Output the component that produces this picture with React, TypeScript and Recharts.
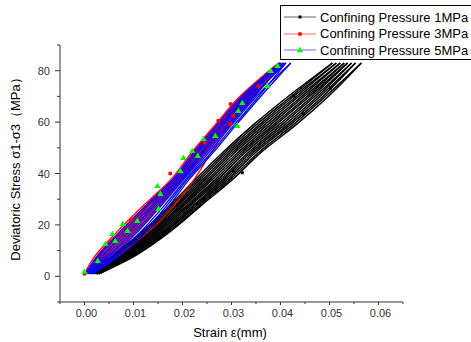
import React from "react";
import { ComposedChart, Line, Scatter, XAxis, YAxis, Label } from "recharts";

// stress levels (MPa) at which each loading / unloading branch was read
const STRESS_UP = [1, 7, 17, 28, 38, 48, 59, 69, 83];
const STRESS_DOWN = [83, 69, 59, 48, 38, 28, 17, 7, 1];

// strain per cycle, confining pressure 1MPa
const P1_LOAD = [
  [0.0008, 0.005, 0.0115, 0.0176, 0.0228, 0.0281, 0.0345, 0.0409, 0.0506],
  [0.0011, 0.0056, 0.0123, 0.0185, 0.0238, 0.0291, 0.0357, 0.042, 0.0514],
  [0.0014, 0.0062, 0.013, 0.0193, 0.0248, 0.0301, 0.0368, 0.0431, 0.0522],
  [0.0017, 0.0068, 0.0138, 0.0202, 0.0258, 0.0312, 0.038, 0.0442, 0.053],
  [0.002, 0.0073, 0.0145, 0.0211, 0.0269, 0.0322, 0.0391, 0.0453, 0.0537],
  [0.0023, 0.0079, 0.0153, 0.0219, 0.0279, 0.0333, 0.0403, 0.0464, 0.0545],
  [0.0026, 0.0085, 0.0161, 0.0228, 0.0289, 0.0343, 0.0415, 0.0475, 0.0553],
  [0.0029, 0.0091, 0.0168, 0.0237, 0.0299, 0.0354, 0.0426, 0.0486, 0.0565],
];
const P1_UNLOAD = [
  [0.0506, 0.0415, 0.0351, 0.0286, 0.0233, 0.018, 0.0119, 0.0053, 0.0011],
  [0.0514, 0.0426, 0.0362, 0.0296, 0.0243, 0.0189, 0.0126, 0.0059, 0.0014],
  [0.0522, 0.0437, 0.0374, 0.0306, 0.0253, 0.0198, 0.0134, 0.0065, 0.0017],
  [0.053, 0.0448, 0.0386, 0.0317, 0.0263, 0.0206, 0.0142, 0.0071, 0.002],
  [0.0537, 0.0459, 0.0397, 0.0327, 0.0274, 0.0215, 0.0149, 0.0076, 0.0023],
  [0.0545, 0.047, 0.0409, 0.0338, 0.0284, 0.0224, 0.0157, 0.0082, 0.0026],
  [0.0553, 0.0481, 0.042, 0.0348, 0.0294, 0.0232, 0.0164, 0.0088, 0.0029],
  [0.0565, 0.0492, 0.0432, 0.0359, 0.0304, 0.0241, 0.0172, 0.0094, 0.003],
];

// confining pressure 3MPa
const P3_LOAD = [
  [0.0005, 0.006, 0.0128, 0.0185, 0.0225, 0.0258, 0.0298, 0.0342, 0.0405],
  [0.0, 0.0018, 0.0065, 0.0123, 0.0178, 0.0218, 0.0267, 0.0312, 0.0396],
  [0.0003, 0.0022, 0.007, 0.0127, 0.0181, 0.0222, 0.027, 0.0315, 0.0398],
  [0.0006, 0.0034, 0.0086, 0.0141, 0.0191, 0.0233, 0.0282, 0.0327, 0.0405],
  [0.001, 0.0044, 0.0098, 0.0152, 0.0198, 0.0242, 0.0291, 0.0336, 0.041],
];
const P3_UNLOAD = [
  [0.0405, 0.034, 0.0295, 0.0247, 0.0202, 0.0157, 0.0104, 0.0049, 0.0012],
  [0.0396, 0.0319, 0.0274, 0.0225, 0.0184, 0.0131, 0.0075, 0.0026, 0.0003],
  [0.0398, 0.0323, 0.0278, 0.0229, 0.0187, 0.0136, 0.008, 0.003, 0.0005],
  [0.0405, 0.0331, 0.0286, 0.0238, 0.0195, 0.0146, 0.0092, 0.0039, 0.0008],
  [0.041, 0.0317, 0.0272, 0.0223, 0.0182, 0.0129, 0.0072, 0.0024, 0.0002],
];

// confining pressure 5MPa
const P5_LOAD = [
  [0.0002, 0.0023, 0.0071, 0.0128, 0.0182, 0.0222, 0.0271, 0.0316, 0.0399],
  [0.0004, 0.0027, 0.0077, 0.0133, 0.0185, 0.0227, 0.0276, 0.0321, 0.0401],
  [0.0007, 0.0037, 0.0089, 0.0144, 0.0193, 0.0236, 0.0284, 0.0329, 0.0406],
  [0.0011, 0.0046, 0.0101, 0.0154, 0.02, 0.0244, 0.0293, 0.0338, 0.0411],
  [0.0014, 0.0056, 0.0113, 0.0165, 0.0208, 0.0253, 0.0301, 0.0346, 0.0421],
];
const P5_UNLOAD = [
  [0.0399, 0.0325, 0.028, 0.0231, 0.0189, 0.0139, 0.0083, 0.0032, 0.0005],
  [0.0401, 0.0334, 0.0289, 0.024, 0.0197, 0.0149, 0.0095, 0.0042, 0.0009],
  [0.0406, 0.0342, 0.0297, 0.0249, 0.0204, 0.0159, 0.0107, 0.0051, 0.0013],
  [0.0411, 0.0351, 0.0306, 0.0258, 0.0211, 0.017, 0.0119, 0.006, 0.0016],
  [0.0421, 0.0355, 0.031, 0.0262, 0.0215, 0.0175, 0.0125, 0.0065, 0.0018],
];

// symbol points shown on each curve [strain, stress]
const P1_MARKS = [
  [0.0, 1.4], [0.0243, 30.2], [0.0304, 41], [0.0322, 40.3],
  [0.0427, 70.2], [0.0447, 63.2], [0.0502, 73.3],
];
const P3_MARKS = [
  [0.0, 1], [0.0095, 22], [0.0175, 40], [0.0245, 52], [0.0273, 60.5],
  [0.0298, 67], [0.0304, 62.4], [0.0298, 59.3], [0.0355, 74],
];
const P5_MARKS = [
  [0.0, 1.8], [0.0027, 6], [0.0043, 12.6], [0.0057, 16.5], [0.0078, 20.4],
  [0.0063, 13.8], [0.0088, 17.7], [0.0108, 21.6], [0.0149, 35.2],
  [0.0155, 32.1], [0.0151, 26.3], [0.0196, 41], [0.0202, 46.1],
  [0.022, 48.8], [0.0231, 46.9], [0.0243, 53.5], [0.0267, 54.7],
  [0.0312, 58.6], [0.0314, 64.4], [0.0322, 67.5], [0.038, 80],
  [0.0373, 74.1], [0.0394, 81.9],
];

const X_MAJOR = [0, 0.01, 0.02, 0.03, 0.04, 0.05, 0.06];
const X_MINOR = [-0.005, 0.005, 0.015, 0.025, 0.035, 0.045, 0.055, 0.065];
const Y_MAJOR = [0, 20, 40, 60, 80];
const Y_MINOR = [-10, 10, 30, 50, 70, 90];

const SERIES = [
  { name: "Confining Pressure 1MPa", color: "#000000", width: 1.5, load: P1_LOAD, unload: P1_UNLOAD, marks: P1_MARKS, symbol: "square", symbolColor: "#000000" },
  { name: "Confining Pressure 3MPa", color: "#ff0000", width: 1.3, load: P3_LOAD, unload: P3_UNLOAD, marks: P3_MARKS, symbol: "circle", symbolColor: "#ff0000" },
  { name: "Confining Pressure 5MPa", color: "#0000ff", width: 1.3, load: P5_LOAD, unload: P5_UNLOAD, marks: P5_MARKS, symbol: "triangle", symbolColor: "#00ff00" },
];

const branch = (strains: number[], stress: number[]) =>
  strains.map((x, i) => ({ x, y: stress[i] }));

const axisColor = "#333";
const font = "Arial, 'Liberation Sans', sans-serif";
const xTicks = [...X_MAJOR, ...X_MINOR].sort((a, b) => a - b);
const yTicks = [...Y_MAJOR, ...Y_MINOR].sort((a, b) => a - b);

function XTick({ x, y, payload }: any) {
  const major = X_MAJOR.includes(payload.value);
  return (
    <g>
      <line x1={x} x2={x} y1={y} y2={y + (major ? 3 : 2)} stroke={axisColor} />
      {major && (
        <text x={x + 2} y={y + 15} textAnchor="middle" fontSize={11} fontFamily={font} fill="#333">
          {payload.value.toFixed(2)}
        </text>
      )}
    </g>
  );
}

function YTick({ x, y, payload }: any) {
  const major = Y_MAJOR.includes(payload.value);
  return (
    <g>
      <line x1={x} x2={x - (major ? 5 : 3)} y1={y} y2={y} stroke={axisColor} />
      {major && (
        <text x={x - 10} y={y + 4} textAnchor="end" fontSize={11} fontFamily={font} fill="#333">
          {payload.value}
        </text>
      )}
    </g>
  );
}

function Symbol({ kind, color, cx, cy }: { kind: string; color: string; cx: number; cy: number }) {
  if (kind === "square") return <rect x={cx - 1.5} y={cy - 1.5} width={3} height={3} fill={color} />;
  if (kind === "circle") return <circle cx={cx} cy={cy} r={2} fill={color} />;
  return <path d={`M${cx},${cy - 3.2}L${cx + 3.2},${cy + 2.2}L${cx - 3.2},${cy + 2.2}Z`} fill={color} />;
}

function LegendBox() {
  return (
    <div
      style={{
        position: "absolute",
        left: 280,
        top: 5,
        width: 200,
        height: 53,
        border: "1px solid #000",
        background: "#fff",
        fontFamily: font,
        fontSize: 13,
        color: "#000",
      }}
    >
      {SERIES.map((s, i) => (
        <div key={s.name} style={{ position: "absolute", left: 2, top: 3 + i * 16.5, height: 16, display: "flex", alignItems: "center", whiteSpace: "nowrap" }}>
          <svg width={34} height={10}>
            <line x1={1} y1={5} x2={33} y2={5} stroke={s.color} strokeOpacity={0.6} />
            <Symbol kind={s.symbol} color={s.symbolColor} cx={17} cy={5} />
          </svg>
          <span style={{ marginLeft: 3 }}>{s.name}</span>
        </div>
      ))}
    </div>
  );
}

export default function App() {
  return (
    <div style={{ position: "absolute", left: 0, top: 0, width: 471, height: 342, background: "#fff" }}>
      <ComposedChart width={471} height={342} margin={{ top: 45, right: 68, bottom: 0, left: 0 }}>
        <XAxis
          type="number"
          dataKey="x"
          domain={[-0.005, 0.065]}
          ticks={xTicks}
          interval={0}
          allowDataOverflow
          height={40}
          stroke={axisColor}
          tickLine={false}
          tickSize={0}
          tickMargin={0}
          tick={<XTick />}
        >
          <Label
            content={() => (
              <text x={230} y={337} textAnchor="middle" fontSize={13} fontFamily={font} fill="#000">
                Strain ε(mm)
              </text>
            )}
          />
        </XAxis>
        <YAxis
          type="number"
          dataKey="y"
          domain={[-10, 90]}
          ticks={yTicks}
          interval={0}
          allowDataOverflow
          width={60}
          stroke={axisColor}
          tickLine={false}
          tickSize={0}
          tickMargin={0}
          tick={<YTick />}
        >
          <Label
            content={() => (
              <text x={20} y={166} textAnchor="middle" fontSize={13} fontFamily={font} fill="#000" transform="rotate(-90 20 166)">
                Deviatoric Stress σ1-σ3（MPa）
              </text>
            )}
          />
        </YAxis>
        {SERIES.flatMap((s, si) =>
          s.load.flatMap((cyc, ci) => [
            <Line
              key={`l${si}-${ci}`}
              data={branch(cyc, STRESS_UP)}
              dataKey="y"
              type="monotoneY"
              stroke={s.color}
              strokeWidth={s.width}
              dot={false}
              activeDot={false}
              isAnimationActive={false}
              legendType="none"
            />,
            <Line
              key={`u${si}-${ci}`}
              data={branch(s.unload[ci], STRESS_DOWN)}
              dataKey="y"
              type="monotoneY"
              stroke={s.color}
              strokeWidth={s.width}
              dot={false}
              activeDot={false}
              isAnimationActive={false}
              legendType="none"
            />,
          ])
        )}
        {SERIES.map((s) => (
          <Scatter
            key={s.name}
            data={s.marks.map(([x, y]) => ({ x, y }))}
            dataKey="y"
            isAnimationActive={false}
            legendType="none"
            shape={(p: any) => <Symbol kind={s.symbol} color={s.symbolColor} cx={p.cx} cy={p.cy} />}
          />
        ))}
      </ComposedChart>
      <LegendBox />
    </div>
  );
}
